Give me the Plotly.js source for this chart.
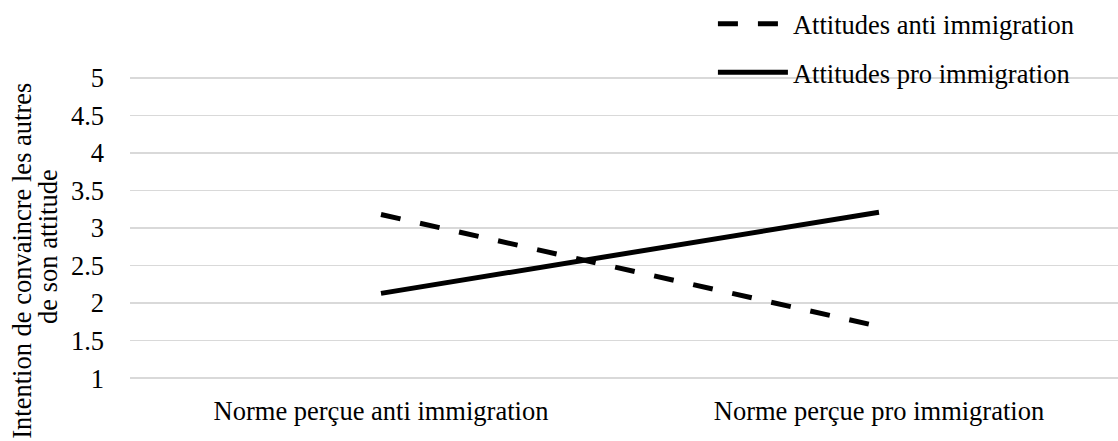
<!DOCTYPE html>
<html><head><meta charset="utf-8">
<script src="https://cdn.plot.ly/plotly-3.0.1.min.js"></script>
<style>body{margin:0;padding:0;background:#fff}#chart{width:1118px;height:441px}</style>
</head><body><div id="chart"></div>
<script>
const categories = ["Norme perçue anti immigration", "Norme perçue pro immigration"];
const antiValues = [3.18, 1.69];
const proValues = [2.13, 3.21];
const seriesNames = ["Attitudes anti immigration", "Attitudes pro immigration"];
const yTicks = [1, 1.5, 2, 2.5, 3, 3.5, 4, 4.5, 5];
const yTickText = ["1", "1.5", "2", "2.5", "3", "3.5", "4", "4.5", "5"];
const yTitleLines = ["Intention de convaincre les autres", "de son attitude"];

function F() { return {family: "Liberation Serif", size: 26.5, color: "#000000"}; }

const traces = [
  {x: categories, y: antiValues, name: seriesNames[0], type: "scatter", mode: "lines",
   line: {color: "#000", width: 5, dash: "20px,20px"}, legendgroup: "a"},
  {x: categories, y: proValues, name: seriesNames[1], type: "scatter", mode: "lines",
   line: {color: "#000", width: 5}, legendgroup: "b"}
];

const layout = {
  width: 1118, height: 441,
  margin: {l: 130, r: 0, t: 72, b: 59},
  paper_bgcolor: "#fff", plot_bgcolor: "#fff",
  font: F(),
  showlegend: true,
  legend: {x: 0.59, y: 1.24, xanchor: "left", yanchor: "top", orientation: "v",
           itemwidth: 70, tracegroupgap: 11, font: F(), bgcolor: "rgba(0,0,0,0)"},
  xaxis: {type: "category", range: [-0.504, 1.48], showgrid: false, showline: false,
          zeroline: false, ticks: "", tickfont: F(), ticklabelstandoff: 10},
  yaxis: {range: [0.95, 5.05], tickvals: yTicks, ticktext: yTickText, showgrid: true,
          gridcolor: "#d9d9d9", gridwidth: 1.5, zeroline: false, showline: false, ticks: "",
          tickfont: F(), ticklabelstandoff: 25},
  annotations: [
    {text: yTitleLines[0], xref: "paper", yref: "paper", x: (22 - 130) / 988, y: (382 - 260) / 310,
     xanchor: "center", yanchor: "middle", textangle: -90, showarrow: false, font: F()},
    {text: yTitleLines[1], xref: "paper", yref: "paper", x: (48 - 130) / 988, y: (382 - 246) / 310,
     xanchor: "center", yanchor: "middle", textangle: -90, showarrow: false, font: F()}
  ]
};
Plotly.newPlot("chart", traces, layout, {displayModeBar: false, staticPlot: true});
</script></body></html>
